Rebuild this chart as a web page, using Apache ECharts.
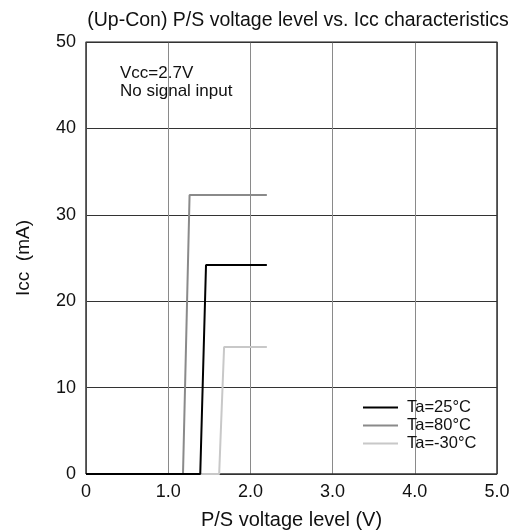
<!DOCTYPE html>
<html>
<head>
<meta charset="utf-8">
<script src="https://cdn.jsdelivr.net/npm/echarts@6/dist/echarts.min.js"></script>
<style>
html,body{margin:0;padding:0;background:#fff;}
#chart{width:516px;height:531px;}
</style>
</head>
<body>
<div id="chart"></div>
<script>
// curve points: [P/S voltage (V), Icc (mA)]
var ta25 = [[0, 0], [1.39, 0], [1.46, 24.2], [2.2, 24.2]];
var ta80 = [[0, 0], [1.18, 0], [1.26, 32.3], [2.2, 32.3]];
var taM30 = [[0, 0], [1.62, 0], [1.68, 14.7], [2.2, 14.7]];
var seriesNames = ['Ta=25°C', 'Ta=80°C', 'Ta=-30°C'];
var seriesColors = ['#000000', '#8a8a8a', '#c8c8c8'];

var font = 'Liberation Sans, Arial, sans-serif';
var myChart = echarts.init(document.getElementById('chart'));

function line(name, data, color, z) {
	return {
		name: name,
		type: 'line',
		data: data,
		symbol: 'none',
		z: z,
		lineStyle: { color: color, width: 2 },
		itemStyle: { color: color }
	};
}

var option = {
	animation: false,
	backgroundColor: '#fff',
	title: {
		text: '(Up-Con) P/S voltage level vs. Icc characteristics',
		left: 293,
		textAlign: 'center',
		top: 6,
		textStyle: { fontFamily: font, fontSize: 19.5, fontWeight: 'normal', color: '#111' }
	},
	graphic: [{
		type: 'text',
		left: 120,
		top: 64,
		style: {
			text: 'Vcc=2.7V\nNo signal input',
			font: '17px ' + font,
			lineHeight: 18,
			fill: '#111'
		}
	}],
	legend: {
		orient: 'vertical',
		left: 358,
		top: 394,
		itemWidth: 35,
		itemHeight: 2,
		itemGap: 1,
		icon: 'rect',
		data: seriesNames,
		textStyle: { fontFamily: font, fontSize: 16.5, color: '#111', padding: [0, 0, 0, 4] }
	},
	grid: { left: 86, right: 19, top: 42, bottom: 57, outerBoundsMode: 'none', containLabel: false },
	xAxis: {
		type: 'value',
		min: 0,
		max: 5,
		interval: 1,
		name: 'P/S voltage level (V)',
		nameLocation: 'middle',
		nameGap: 36,
		nameTextStyle: { fontFamily: font, fontSize: 20, color: '#111' },
		axisLine: { show: false },
		axisTick: { show: false },
		axisLabel: {
			fontFamily: font, fontSize: 18, color: '#111', margin: 9,
			formatter: function (v) { return v === 0 ? '0' : v.toFixed(1); }
		},
		splitLine: { show: true, lineStyle: { color: '#8a8a8a', width: 1 } }
	},
	yAxis: {
		type: 'value',
		min: 0,
		max: 50,
		interval: 10,
		name: 'Icc  (mA)',
		nameLocation: 'middle',
		nameGap: 53,
		nameTextStyle: { fontFamily: font, fontSize: 19, color: '#111' },
		axisLine: { show: false },
		axisTick: { show: false },
		axisLabel: { fontFamily: font, fontSize: 18, color: '#111', margin: 10 },
		splitLine: { show: true, lineStyle: { color: '#333', width: 1 } }
	},
	series: [
		line(seriesNames[2], taM30, seriesColors[2], 2),
		line(seriesNames[1], ta80, seriesColors[1], 3),
		line(seriesNames[0], ta25, seriesColors[0], 4),
		{
			type: 'line',
			data: [[0, 0], [5, 0], [5, 50], [0, 50], [0, 0]],
			symbol: 'none',
			silent: true,
			z: 1,
			lineStyle: { color: '#333', width: 1.5 }
		}
	]
};

myChart.setOption(option);
</script>
</body>
</html>
